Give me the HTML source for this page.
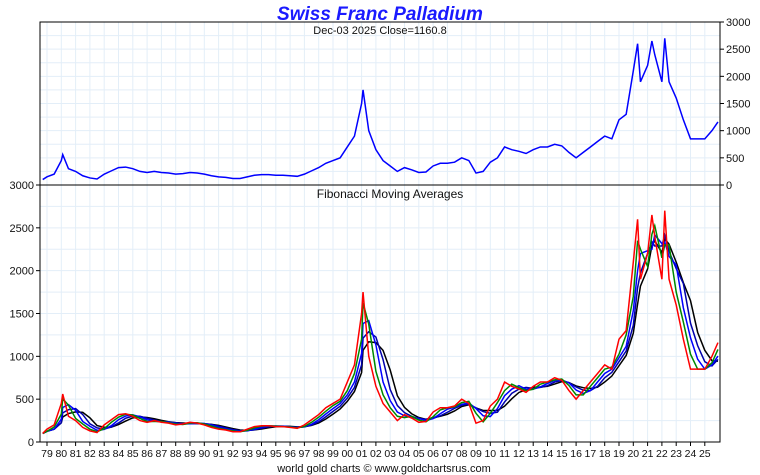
<!DOCTYPE html>
<html><head><meta charset="utf-8"><style>
body{margin:0;background:#fff;}
svg{display:block;font-family:"Liberation Sans",sans-serif;}
</style></head><body>
<svg id="c" width="760" height="475"></svg>
<script>
const years=[1978.7,1979,1979.5,1980,1980.1,1980.5,1981,1981.5,1982,1982.5,1983,1983.5,1984,1984.5,1985,1985.5,1986,1986.5,1987,1987.5,1988,1988.5,1989,1989.5,1990,1990.5,1991,1991.5,1992,1992.5,1993,1993.5,1994,1994.5,1995,1995.5,1996,1996.5,1997,1997.5,1998,1998.5,1999,1999.5,2000,2000.5,2001,2001.1,2001.5,2002,2002.5,2003,2003.5,2004,2004.5,2005,2005.5,2006,2006.5,2007,2007.5,2008,2008.5,2009,2009.5,2010,2010.5,2011,2011.5,2012,2012.5,2013,2013.5,2014,2014.5,2015,2015.5,2016,2016.5,2017,2017.5,2018,2018.5,2019,2019.5,2020,2020.3,2020.5,2021,2021.3,2021.5,2022,2022.2,2022.5,2023,2023.5,2024,2024.5,2025,2025.5,2025.92];
const prices=[100,150,200,450,560,300,250,170,130,110,200,260,320,330,300,250,230,250,230,220,200,210,230,220,200,170,150,140,120,120,150,180,190,190,180,180,170,160,200,260,320,400,450,500,700,900,1500,1750,1000,650,450,350,250,320,280,230,240,350,400,400,420,500,450,220,250,420,500,700,650,620,580,650,700,700,750,720,600,500,600,700,800,900,850,1200,1300,2100,2600,1900,2200,2650,2400,1900,2700,1900,1600,1200,850,850,850,1000,1160];
const yearLabels=["79","80","81","82","83","84","85","86","87","88","89","90","91","92","93","94","95","96","97","98","99","00","01","02","03","04","05","06","07","08","09","10","11","12","13","14","15","16","17","18","19","20","21","22","23","24","25"];
const yTicks=[0,500,1000,1500,2000,2500,3000];
const maWindows=[2,3,4,5];
const maColors=["#008800","#0000ff","#0000aa","#000000"];

const NS="http://www.w3.org/2000/svg",svg=document.getElementById("c");
function el(t,a,txt){const e=document.createElementNS(NS,t);for(const k in a)e.setAttribute(k,a[k]);if(txt!==undefined)e.textContent=txt;svg.appendChild(e);return e;}
const X0=40,X1=720;
const xs=y=>47+(y-1979)*14.3;
const yTop=v=>185-v*163/3000;
const yBot=v=>442-v*257/3000;

for(let v=250;v<3000;v+=250){
  let g=el("line",{x1:X0,x2:X1,y1:yTop(v),y2:yTop(v),stroke:"#e3eef8"});
  
  g=el("line",{x1:X0,x2:X1,y1:yBot(v),y2:yBot(v),stroke:"#e3eef8"});
  
}
yearLabels.forEach((l,i)=>{
  const x=xs(1979+i);
  let g=el("line",{x1:x,x2:x,y1:22,y2:442,stroke:"#e3eef8"});
  
  let t=el("line",{x1:x,x2:x,y1:442,y2:446,stroke:"#000"});
  
  let tx=el("text",{x:x,y:457,"font-size":10.5,"text-anchor":"middle",fill:"#111"},l);
  
});
el("rect",{x:X0,y:22,width:X1-X0,height:420,fill:"none",stroke:"#000"});
el("line",{x1:X0,x2:X1,y1:185,y2:185,stroke:"#000"});
yTicks.forEach(v=>{
  let t=el("line",{x1:X1,x2:X1+4,y1:yTop(v),y2:yTop(v),stroke:"#000"});
  
  let tx=el("text",{x:X1+6,y:yTop(v)+4,"font-size":11,fill:"#111"},v);
  
  t=el("line",{x1:X0-4,x2:X0,y1:yBot(v),y2:yBot(v),stroke:"#000"});
  
  tx=el("text",{x:X0-6,y:yBot(v)+4,"font-size":11,"text-anchor":"end",fill:"#111"},v);
  
});
let p=el("polyline",{points:years.map((y,i)=>xs(y)+","+yTop(prices[i])).join(" "),fill:"none",stroke:"#0000ff","stroke-width":1.5});

for(let w=maWindows.length-1;w>=0;w--){
  const n=maWindows[w];
  const pts=prices.map((v,i)=>{const s=prices.slice(Math.max(0,i-n+1),i+1);return xs(years[i])+","+yBot(s.reduce((a,b)=>a+b,0)/s.length);});
  let m=el("polyline",{points:pts.join(" "),fill:"none",stroke:maColors[w],"stroke-width":1.5});
  
}
p=el("polyline",{points:years.map((y,i)=>xs(y)+","+yBot(prices[i])).join(" "),fill:"none",stroke:"#ff0000","stroke-width":1.5});

let t=el("text",{x:380,y:20,"font-size":19,"font-weight":"bold","font-style":"italic","text-anchor":"middle",fill:"#1a1aff"},"Swiss Franc Palladium");

t=el("text",{x:380,y:34,"font-size":11,"text-anchor":"middle",fill:"#111"},"Dec-03  2025   Close=1160.8");

t=el("text",{x:390,y:198,"font-size":12,"text-anchor":"middle",fill:"#111"},"Fibonacci Moving Averages");

t=el("text",{x:384,y:472,"font-size":11,"text-anchor":"middle",fill:"#111"},"world gold charts © www.goldchartsrus.com");

</script>
</body></html>
